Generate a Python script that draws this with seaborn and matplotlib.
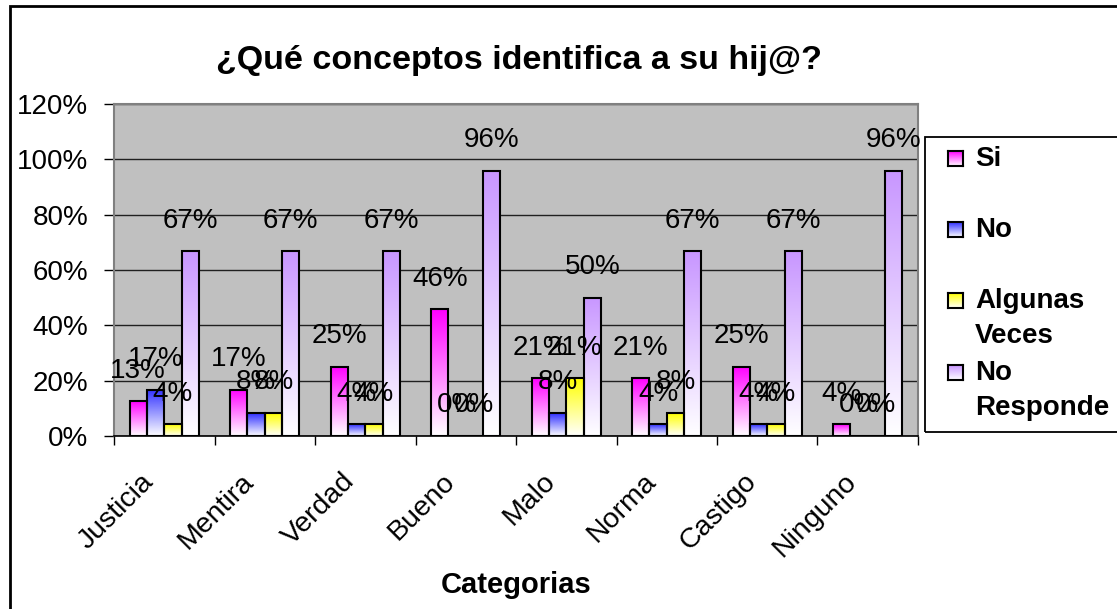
import numpy as np
import pandas as pd
import matplotlib
matplotlib.use("Agg")
import matplotlib.pyplot as plt
import matplotlib.transforms as mtransforms
from matplotlib.patches import Rectangle
from matplotlib.colors import to_rgb
import seaborn as sns

# ---------------- data ----------------
categories = ["Justicia", "Mentira", "Verdad", "Bueno", "Malo", "Norma", "Castigo", "Ninguno"]
series = ["Si", "No", "Algunas Veces", "No Responde"]
si = [12.5, 16.7, 25.0, 45.8, 20.8, 20.8, 25.0, 4.2]
no = [16.7, 8.3, 4.2, 0.0, 8.3, 4.2, 4.2, 0.0]
algunas = [4.2, 8.3, 4.2, 0.0, 20.8, 8.3, 4.2, 0.0]
no_responde = [66.7, 66.7, 66.7, 95.8, 50.0, 66.7, 66.7, 95.8]
yticks = [0, 20, 40, 60, 80, 100, 120]
title = "¿Qué conceptos identifica a su hij@?"
xlabel = "Categorias"

top_colors = {"Si": "#FF00FF", "No": "#3030FF", "Algunas Veces": "#FFFF00", "No Responde": "#C896FF"}

values = {"Si": si, "No": no, "Algunas Veces": algunas, "No Responde": no_responde}
rows = []
for s in series:
    for c, v in zip(categories, values[s]):
        rows.append({"Categoria": c, "Serie": s, "Valor": v})
df = pd.DataFrame(rows)

# ---------------- figure ----------------
W, H = 1117, 609
sns.set_style("white")
plt.rcParams["font.family"] = ["Liberation Sans", "DejaVu Sans"]
for k in ["text.color", "axes.labelcolor", "xtick.color", "ytick.color"]:
    plt.rcParams[k] = "black"
fig = plt.figure(figsize=(W / 100, H / 100), dpi=100)

def fx(x):
    return x / W

def fy(y):
    return 1 - y / H

ax_l, ax_r, ax_t, ax_b = 114, 918, 104, 436
ax = fig.add_axes([fx(ax_l), fy(ax_b), (ax_r - ax_l) / W, (ax_b - ax_t) / H])
ax.set_facecolor("#C0C0C0")

sns.barplot(data=df, x="Categoria", y="Valor", hue="Serie", order=categories,
            hue_order=series, palette=top_colors, width=0.69, gap=0,
            edgecolor="black", linewidth=1.5, legend=False, ax=ax, zorder=2)

ax.set_xlim(-0.5, len(categories) - 0.5)
ax.set_ylim(0, 120)

def grad_array(color):
    t = np.linspace(0, 1, 256).reshape(-1, 1, 1)
    c = np.array(to_rgb(color)).reshape(1, 1, 3)
    return (1 - t) * np.ones((1, 1, 3)) + t * c

for s, cont in zip(series, ax.containers):
    arr = grad_array(top_colors[s])
    for bar, v in zip(cont, values[s]):
        x0 = bar.get_x()
        w = bar.get_width()
        h = bar.get_height()
        bar.set_facecolor("none")
        bar.set_zorder(3)
        if h > 0:
            ax.imshow(arr, extent=[x0, x0 + w, 0, h], origin="lower", aspect="auto",
                      interpolation="bilinear", zorder=2.5)
        ax.annotate(f"{int(v + 0.5):d}%", (x0 + w / 2, h), xytext=(0, 17),
                    textcoords="offset points", ha="center", va="baseline",
                    fontsize=20, zorder=5, annotation_clip=False)

ax.set_xlim(-0.5, len(categories) - 0.5)
ax.set_ylim(0, 120)

# grid and axes
ax.set_axisbelow(True)
ax.yaxis.grid(True, color="#202020", linewidth=1.0, zorder=0.5)
ax.xaxis.grid(False)
for side in ["left", "top", "right"]:
    ax.spines[side].set_color("#808080")
    ax.spines[side].set_linewidth(1.5)
ax.spines["bottom"].set_color("black")
ax.spines["bottom"].set_linewidth(1.2)

ax.set_yticks(yticks)
ax.set_yticklabels([f"{t}%" for t in yticks])
ax.tick_params(axis="y", length=7.2, width=1.0, color="black", pad=11.5, labelsize=20, left=True)

ax.set_xticks(range(len(categories)))
ax.set_xticklabels(categories, rotation=45, ha="right", va="center", rotation_mode="anchor", fontsize=20.5)
ax.tick_params(axis="x", which="major", length=0, pad=30)
ax.set_xticks(np.arange(-0.5, len(categories), 1), minor=True)
ax.tick_params(axis="x", which="minor", length=6.5, width=1.0, color="black", bottom=True)
offset = mtransforms.ScaledTranslation(-15 / 100, 0, fig.dpi_scale_trans)
for lab in ax.get_xticklabels():
    lab.set_transform(lab.get_transform() + offset)

ax.set_xlabel(xlabel, fontsize=21, fontweight="bold")
ax.set_ylabel("")
ax.xaxis.set_label_coords(0.5, (ax_b - 585) / (ax_b - ax_t))
ax.xaxis.label.set_va("center")

# title
fig.text(fx(519), fy(69), title, ha="center", va="baseline", fontsize=24.5, fontweight="bold")

# figure border
fig.add_artist(Rectangle((fx(10), -0.05), 1.2, fy(6) + 0.05, transform=fig.transFigure,
                         fill=False, edgecolor="black", linewidth=2))

# legend (manual)
fig.add_artist(Rectangle((fx(925), fy(432)), 1.0, (432 - 137) / H, transform=fig.transFigure,
                         fill=False, edgecolor="black", linewidth=1.3))
marker_tops = [151, 222, 293, 365]
text_lines = [[("Si", 166)], [("No", 237)], [("Algunas", 308), ("Veces", 343)],
              [("No", 380), ("Responde", 415)]]
for s, mt, lines in zip(series, marker_tops, text_lines):
    mk = fig.add_axes([fx(948), fy(mt + 15), 15 / W, 15 / H])
    mk.imshow(grad_array(top_colors[s]), origin="lower", aspect="auto", extent=[0, 1, 0, 1])
    mk.set_xticks([])
    mk.set_yticks([])
    for sp in mk.spines.values():
        sp.set_color("black")
        sp.set_linewidth(1.5)
        sp.set_visible(True)
    for txt, base in lines:
        fig.text(fx(975), fy(base), txt, ha="left", va="baseline", fontsize=20, fontweight="bold")

fig.savefig("out.png", dpi=100)
